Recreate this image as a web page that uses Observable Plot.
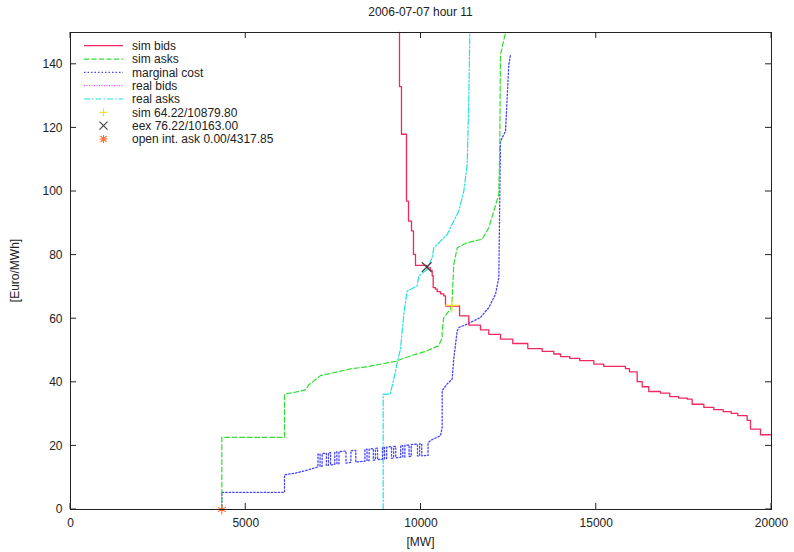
<!DOCTYPE html>
<html><head><meta charset="utf-8">
<script src="https://cdn.jsdelivr.net/npm/d3@7"></script>
<script src="https://cdn.jsdelivr.net/npm/@observablehq/plot@0.6"></script>
<style>body{margin:0;background:#fff}</style>
</head><body><div id="chart"></div>
<script>
const title = "2006-07-07 hour 11";
const xLabel = "[MW]";
const yLabel = "[Euro/MWh]";
const xTicks = [0, 5000, 10000, 15000, 20000];
const yTicks = [0, 20, 40, 60, 80, 100, 120, 140];

// sim bids (step function, step-after)
const simBidsMW = [9386,9386,9443,9586,9643,9729,9786,9843,10177,10271,10319,10348,10413,10462,10560,10650,10699,11100,11364,11697,11934,12268,12619,13047,13458,13789,13980,14245,14530,14930,15215,15834,15948,16168,16311,16499,16833,17098,17355,17600,17736,18070,18354,18621,18850,19038,19306,19400,19686,20000];
const simBidsPrice = [150,133,118,97,90.7,87.6,80.2,76.8,76.0,75.2,73.5,69.8,69.3,68.5,67.8,67.2,64.0,60.9,58.0,56.5,55.1,53.6,52.2,50.6,49.7,48.9,48.1,47.5,46.8,45.7,45.0,44.3,43.3,40.2,38.6,37.1,36.6,35.5,35.0,34.7,33.1,32.1,31.4,30.8,30.2,29.5,28.0,25.3,23.5,23.5];

// sim asks
const simAsksMW = [4318,4318,6105,6105,6371,6705,6800,7133,7988,8464,8939,9272,9700,10177,10508,10604,10604,10651,10830,10880,10900,10936,11032,11318,11746,11934,12077,12220,12248,12268,12411];
const simAsksPrice = [0,22.7,22.7,36.3,36.8,37.6,39.2,42.1,44.2,44.9,45.9,46.6,48.3,49.9,51.5,54.1,56.2,60.4,62.8,64.2,68.7,77.1,82.3,83.9,85.0,88.6,93.8,99.1,115.8,143,150];

// marginal cost
const mcMW = [4318,4318,6105,6105,6400,6700,7038,
  7060,7060,7120,7120,7180,7180,7300,7300,7360,7360,7420,7420,7540,7540,7600,7600,7660,7660,7860,7860,8000,8000,8140,8140,8400,8400,8460,8460,8520,8520,8640,8640,8700,8700,8760,8760,8900,8900,8960,8960,9020,9020,9160,9160,9220,9220,9280,9280,9420,9420,9480,9480,9540,9540,9660,9660,9720,9720,9900,9900,9960,9960,10020,10020,10200,10200,
  10271,10556,10604,10604,10747,10889,10936,11032,11078,11318,11697,11934,12125,12220,12248,12268,12411,12458,12506,12554];
const mcPrice = [0,5.4,5.4,10.9,11.4,12.2,13.3,
  13.4,17.4,17.5,13.5,13.6,17.6,17.7,13.8,13.9,17.8,17.9,14.0,14.2,18.0,18.1,14.3,14.4,18.2,18.4,14.6,14.8,18.5,18.6,14.9,15.2,18.9,19.0,15.3,15.4,19.0,19.2,15.5,15.6,19.2,19.3,15.7,15.8,19.5,19.5,15.9,16.0,19.6,19.8,16.1,16.2,19.8,19.9,16.3,16.4,20.1,20.1,16.5,16.5,20.2,20.3,16.6,16.7,20.4,20.6,16.8,16.9,20.6,20.7,16.9,17.0,20.9,
  21.7,23.2,25.8,37.4,39.5,41.0,47.5,56.2,57.2,58.3,60.4,63.5,67.7,72.9,98.0,115.8,119.0,129.4,139.9,143.0];

// real asks
const realAsksMW = [8920,8920,9120,9224,9320,9415,9509,9605,9890,9937,10177,10319,10366,10556,10747,10889,11078,11221,11318,11364,11393];
const realAsksPrice = [0,36.3,36.3,41.0,46.0,50.5,61.4,68.7,70.3,73.4,75.5,79.2,82.3,84.4,86.5,89.7,93.8,100.1,108.5,129.4,150];

// special points
const pointNames = ["sim 64.22/10879.80", "eex 76.22/10163.00", "open int. ask 0.00/4317.85"];
const pointMW = [10879.80, 10163.00, 4317.85];
const pointPrice = [64.22, 76.22, 0.00];

const legendNames = ["sim bids", "sim asks", "marginal cost", "real bids", "real asks"];

const toRows = (mw, p) => mw.map((x, i) => ({mw: x, price: p[i]}));
const colors = {red: "#f02860", green: "#33dd33", blue: "#4444ff", magenta: "#ff44ff", cyan: "#22e0e0", yellow: "#f5dc20", gray: "#404040", orange: "#ff6a30"};
const dashes = {green: "5,2.5", blue: "1.5,2", magenta: "1,1.5", cyan: "6,2,1.5,2"};
const pts = pointMW.map((x, i) => ({mw: x, price: pointPrice[i], name: pointNames[i]}));

const chart = Plot.plot({
  width: 794, height: 552,
  marginLeft: 70, marginRight: 23, marginTop: 32, marginBottom: 43,
  style: {fontFamily: '"Liberation Sans", Arial, sans-serif', fontSize: "12px", background: "#fff", color: "#222"},
  x: {domain: [0, 20000]},
  y: {domain: [0, 150]},
  marks: [
    Plot.axisX({ticks: xTicks, tickSize: 0, tickPadding: 9, label: null, tickFormat: d => String(d), fontSize: 12}),
    Plot.axisY({ticks: yTicks, tickSize: 0, tickPadding: 8, label: null, tickFormat: d => String(d), fontSize: 12}),
    Plot.line(toRows(realAsksMW, realAsksPrice), {x: "mw", y: "price", stroke: colors.cyan, strokeWidth: 1.2, strokeDasharray: dashes.cyan}),
    Plot.line(toRows(mcMW, mcPrice), {x: "mw", y: "price", stroke: colors.blue, strokeWidth: 1.3, strokeDasharray: dashes.blue}),
    Plot.line(toRows(simAsksMW, simAsksPrice), {x: "mw", y: "price", stroke: colors.green, strokeWidth: 1.2, strokeDasharray: dashes.green}),
    Plot.line(toRows(simBidsMW, simBidsPrice), {x: "mw", y: "price", curve: "step-after", stroke: colors.red, strokeWidth: 1.3}),
    Plot.dot(pts.slice(0,1), {x: "mw", y: "price", symbol: "plus", r: 4.5, stroke: colors.yellow, strokeWidth: 1.2}),
    Plot.dot(pts.slice(1,2), {x: "mw", y: "price", symbol: "times", r: 4.5, stroke: colors.gray, strokeWidth: 1.1}),
    Plot.dot(pts.slice(2,3), {x: "mw", y: "price", symbol: "asterisk", r: 4.5, stroke: colors.orange, strokeWidth: 1.1}),
    Plot.frame({stroke: "#222"})
  ]
});

const sx = chart.scale("x"), sy = chart.scale("y");
const svg = d3.select(chart);
const x0 = sx.apply(0), x1 = sx.apply(20000), y0 = sy.apply(0), y1 = sy.apply(150);
const tk = svg.append("g").attr("stroke", "#222").attr("stroke-width", 1);
for (const t of xTicks) {
  const X = sx.apply(t);
  tk.append("line").attr("x1", X).attr("x2", X).attr("y1", y0).attr("y2", y0 - 6);
  tk.append("line").attr("x1", X).attr("x2", X).attr("y1", y1).attr("y2", y1 + 6);
}
for (const t of yTicks) {
  const Y = sy.apply(t);
  tk.append("line").attr("x1", x0).attr("x2", x0 + 6).attr("y1", Y).attr("y2", Y);
  tk.append("line").attr("x1", x1).attr("x2", x1 - 6).attr("y1", Y).attr("y2", Y);
}
const font = '"Liberation Sans", Arial, sans-serif';
svg.append("text").attr("x", (x0 + x1) / 2).attr("y", 16).attr("text-anchor", "middle").attr("font-size", 12).attr("font-family", font).attr("fill", "#222").text(title);
svg.append("text").attr("x", (x0 + x1) / 2).attr("y", 546).attr("text-anchor", "middle").attr("font-size", 12).attr("font-family", font).attr("fill", "#222").text(xLabel);
svg.append("text").attr("transform", `translate(19,${(y0 + y1) / 2}) rotate(-90)`).attr("text-anchor", "middle").attr("font-size", 12).attr("font-family", font).attr("fill", "#222").text(yLabel);

// legend
const lg = svg.append("g").attr("font-family", font).attr("font-size", 12).attr("fill", "#222").attr("text-anchor", "start");
const rowY = i => 45.7 + i * 13.33;
const lineStyles = [
  {c: colors.red, d: null}, {c: colors.green, d: dashes.green}, {c: colors.blue, d: dashes.blue},
  {c: colors.magenta, d: dashes.magenta}, {c: colors.cyan, d: dashes.cyan}
];
legendNames.forEach((n, i) => {
  const l = lg.append("line").attr("x1", 84).attr("x2", 123).attr("y1", rowY(i)).attr("y2", rowY(i))
    .attr("stroke", lineStyles[i].c).attr("stroke-width", 1.2);
  if (lineStyles[i].d) l.attr("stroke-dasharray", lineStyles[i].d);
  lg.append("text").attr("x", 132).attr("y", rowY(i)).attr("dy", "0.35em").attr("text-anchor", "start").text(n);
});
const symColors = [colors.yellow, colors.gray, colors.orange];
const cx = 103.5, s = 4;
const symSegs = [
  [[-s,0,s,0],[0,-s,0,s]],
  [[-s,-s,s,s],[-s,s,s,-s]],
  [[-s,0,s,0],[0,-s,0,s],[-s*0.75,-s*0.75,s*0.75,s*0.75],[-s*0.75,s*0.75,s*0.75,-s*0.75]]
];
pointNames.forEach((n, i) => {
  const Y = rowY(i + 5);
  for (const [a, b, c, d] of symSegs[i]) {
    lg.append("line").attr("x1", cx + a).attr("y1", Y + b).attr("x2", cx + c).attr("y2", Y + d)
      .attr("stroke", symColors[i]).attr("stroke-width", 1.1);
  }
  lg.append("text").attr("x", 132).attr("y", Y).attr("dy", "0.35em").attr("text-anchor", "start").text(n);
});

document.getElementById("chart").appendChild(chart);
</script>
</body></html>
